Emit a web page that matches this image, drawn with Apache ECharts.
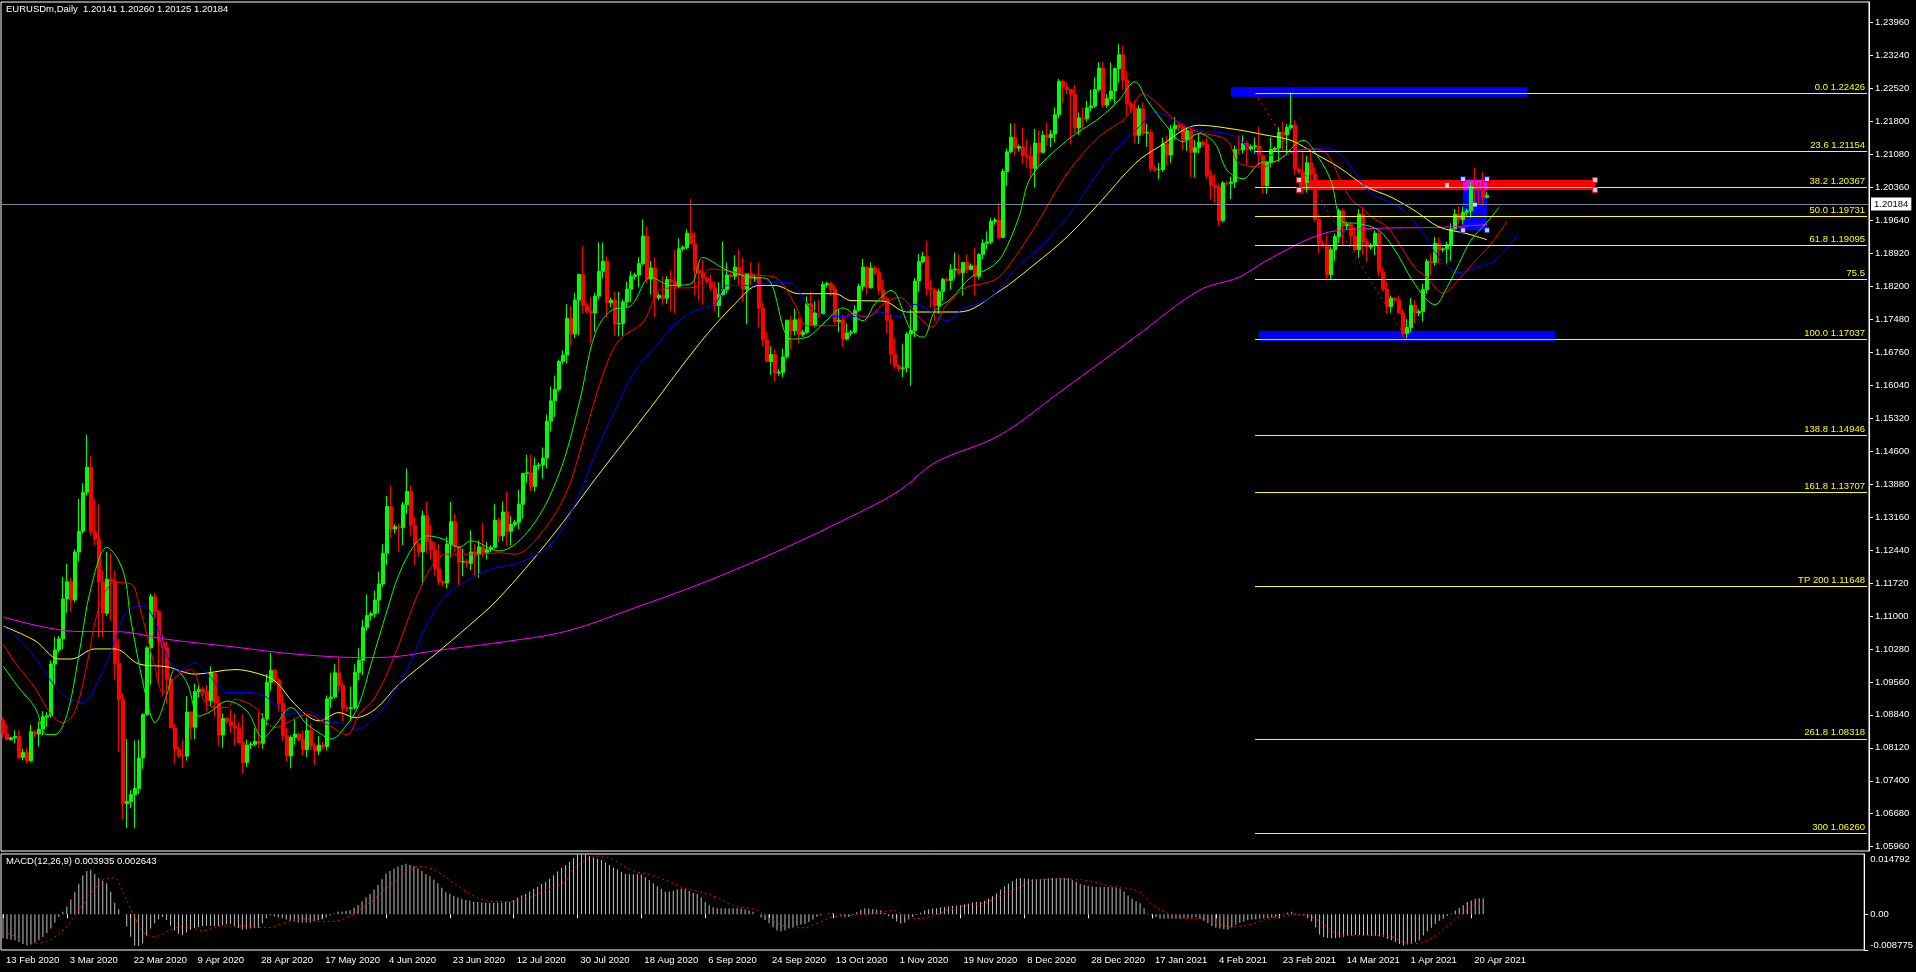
<!DOCTYPE html>
<html><head><meta charset="utf-8">
<script src="https://cdn.jsdelivr.net/npm/echarts@6/dist/echarts.min.js"></script>
<style>html,body{margin:0;padding:0;background:#000;overflow:hidden}#c{width:1916px;height:972px}</style>
</head><body><div id="c"></div>
<script>
// ---------- DATA ----------
const titleText = 'EURUSDm,Daily  1.20141 1.20260 1.20125 1.20184';
const macdTitle = 'MACD(12,26,9) 0.003935 0.002643';
const startDate = [2020, 1, 13];
const skipDates = ['2020-12-25', '2021-01-01'];
const slotCount = 467;
const labelEvery = 16;
const currentPrice = 1.20184;

// [open, high, low, close]
const candles = [
[1.0872,1.0878,1.0834,1.0842],[1.0842,1.0863,1.0828,1.0830],[1.0830,1.0836,1.0828,1.0834],[1.0834,1.0850,1.0822,1.0837],[1.0837,1.0850,1.0788,1.0791],
[1.0791,1.0810,1.0785,1.0802],[1.0802,1.0813,1.0778,1.0784],[1.0784,1.0862,1.0780,1.0847],[1.0847,1.0850,1.0835,1.0842],[1.0842,1.0870,1.0815,1.0853],
[1.0853,1.0892,1.0839,1.0880],[1.0880,1.0890,1.0858,1.0882],[1.0882,1.1003,1.0878,1.0995],[1.0995,1.1054,1.0950,1.1026],[1.1026,1.1056,1.1020,1.1050],
[1.1050,1.1185,1.1028,1.1137],[1.1137,1.1214,1.1107,1.1175],[1.1175,1.1183,1.1109,1.1135],[1.1135,1.1245,1.1130,1.1240],[1.1240,1.1356,1.1219,1.1285],
[1.1285,1.1390,1.1280,1.1370],[1.1370,1.1496,1.1363,1.1425],[1.1425,1.1450,1.1276,1.1284],[1.1284,1.1356,1.1255,1.1268],[1.1268,1.1344,1.1054,1.1174],
[1.1174,1.1199,1.1054,1.1106],[1.1106,1.1240,1.1100,1.1180],[1.1180,1.1237,1.1090,1.1176],[1.1176,1.1199,1.0960,1.0996],[1.0996,1.1050,1.0803,1.0918],
[1.0918,1.0931,1.0655,1.0690],[1.0690,1.0831,1.0637,1.0695],[1.0695,1.0720,1.0680,1.0710],[1.0710,1.0828,1.0636,1.0723],[1.0723,1.0830,1.0711,1.0790],
[1.0790,1.0887,1.0766,1.0885],[1.0885,1.1034,1.0882,1.1030],[1.1030,1.1148,1.0950,1.1142],[1.1142,1.1150,1.1090,1.1110],[1.1110,1.1114,1.0953,1.1043],
[1.1043,1.1060,1.0925,1.1031],[1.1031,1.1045,1.0908,1.0962],[1.0962,1.0970,1.0855,1.0856],[1.0856,1.0865,1.0778,1.0808],[1.0808,1.0815,1.0790,1.0795],
[1.0795,1.0830,1.0768,1.0794],[1.0794,1.0925,1.0784,1.0890],[1.0890,1.0892,1.0830,1.0857],[1.0857,1.0952,1.0831,1.0935],[1.0935,1.0950,1.0923,1.0940],
[1.0940,1.0945,1.0925,1.0935],[1.0935,1.0950,1.0891,1.0915],[1.0915,1.0990,1.0903,1.0975],[1.0975,1.0976,1.0880,1.0910],[1.0910,1.0925,1.0815,1.0840],
[1.0840,1.0887,1.0812,1.0876],[1.0876,1.0880,1.0864,1.0870],[1.0870,1.0895,1.0845,1.0860],[1.0860,1.0887,1.0816,1.0855],[1.0855,1.0870,1.0820,1.0823],
[1.0823,1.0885,1.0757,1.0780],[1.0780,1.0830,1.0770,1.0818],[1.0818,1.0825,1.0810,1.0820],[1.0820,1.0855,1.0815,1.0826],[1.0826,1.0890,1.0812,1.0822],
[1.0822,1.0888,1.0810,1.0875],[1.0875,1.0973,1.0861,1.0955],[1.0955,1.1019,1.0937,1.0981],[1.0981,1.0985,1.0950,1.0960],[1.0960,1.0965,1.0891,1.0909],
[1.0909,1.0929,1.0826,1.0838],[1.0838,1.0855,1.0782,1.0794],[1.0794,1.0840,1.0767,1.0835],[1.0835,1.0876,1.0819,1.0842],[1.0842,1.0845,1.0825,1.0830],
[1.0830,1.0850,1.0795,1.0808],[1.0808,1.0877,1.0792,1.0850],[1.0850,1.0865,1.0807,1.0816],[1.0816,1.0823,1.0775,1.0805],[1.0805,1.0838,1.0796,1.0818],
[1.0818,1.0825,1.0808,1.0815],[1.0815,1.0926,1.0806,1.0919],[1.0919,1.0976,1.0900,1.0923],[1.0923,1.0995,1.0920,1.0976],[1.0976,1.1009,1.0934,1.0948],
[1.0948,1.0955,1.0870,1.0899],[1.0899,1.0905,1.0890,1.0898],[1.0898,1.0946,1.0871,1.0900],[1.0900,1.0995,1.0895,1.0977],[1.0977,1.1030,1.0960,1.1003],
[1.1003,1.1092,1.0970,1.1075],[1.1075,1.1147,1.1068,1.1101],[1.1101,1.1110,1.1090,1.1105],[1.1105,1.1155,1.1096,1.1135],[1.1135,1.1197,1.1106,1.1170],
[1.1170,1.1257,1.1164,1.1237],[1.1237,1.1362,1.1212,1.1339],[1.1339,1.1384,1.1270,1.1290],[1.1290,1.1300,1.1280,1.1295],[1.1295,1.1302,1.1240,1.1293],
[1.1293,1.1349,1.1255,1.1343],[1.1343,1.1422,1.1323,1.1372],[1.1372,1.1386,1.1276,1.1298],[1.1298,1.1317,1.1212,1.1256],[1.1256,1.1262,1.1230,1.1240],
[1.1240,1.1330,1.1168,1.1319],[1.1319,1.1349,1.1238,1.1263],[1.1263,1.1300,1.1223,1.1244],[1.1244,1.1261,1.1188,1.1203],[1.1203,1.1257,1.1168,1.1175],
[1.1175,1.1180,1.1165,1.1172],[1.1172,1.1273,1.1160,1.1257],[1.1257,1.1349,1.1228,1.1306],[1.1306,1.1323,1.1240,1.1251],[1.1251,1.1253,1.1168,1.1218],
[1.1218,1.1247,1.1187,1.1219],[1.1219,1.1225,1.1205,1.1215],[1.1215,1.1287,1.1200,1.1240],[1.1240,1.1257,1.1189,1.1234],[1.1234,1.1265,1.1184,1.1251],
[1.1251,1.1303,1.1228,1.1239],[1.1239,1.1262,1.1223,1.1245],[1.1245,1.1255,1.1240,1.1250],[1.1250,1.1345,1.1247,1.1309],[1.1309,1.1315,1.1260,1.1275],
[1.1275,1.1350,1.1264,1.1327],[1.1327,1.1371,1.1255,1.1285],[1.1285,1.1318,1.1254,1.1300],[1.1300,1.1310,1.1295,1.1305],[1.1305,1.1375,1.1290,1.1344],
[1.1344,1.1413,1.1313,1.1411],[1.1411,1.1452,1.1391,1.1413],[1.1413,1.1452,1.1373,1.1383],[1.1383,1.1446,1.1372,1.1428],[1.1428,1.1435,1.1420,1.1430],
[1.1430,1.1468,1.1400,1.1445],[1.1445,1.1540,1.1422,1.1526],[1.1526,1.1601,1.1503,1.1570],[1.1570,1.1625,1.1535,1.1595],[1.1595,1.1660,1.1590,1.1656],
[1.1656,1.1680,1.1650,1.1670],[1.1670,1.1781,1.1651,1.1750],[1.1750,1.1777,1.1690,1.1716],[1.1716,1.1806,1.1707,1.1790],[1.1790,1.1848,1.1713,1.1846],
[1.1846,1.1908,1.1760,1.1778],[1.1778,1.1785,1.1760,1.1765],[1.1765,1.1797,1.1696,1.1762],[1.1762,1.1806,1.1721,1.1799],[1.1799,1.1916,1.1791,1.1853],
[1.1853,1.1916,1.1838,1.1875],[1.1875,1.1885,1.1753,1.1784],[1.1784,1.1795,1.1775,1.1790],[1.1790,1.1808,1.1712,1.1738],[1.1738,1.1808,1.1711,1.1739],
[1.1739,1.1791,1.1712,1.1786],[1.1786,1.1830,1.1775,1.1814],[1.1814,1.1853,1.1786,1.1842],[1.1842,1.1850,1.1835,1.1845],[1.1845,1.1883,1.1818,1.1870],
[1.1870,1.1966,1.1865,1.1930],[1.1930,1.1951,1.1826,1.1836],[1.1836,1.1876,1.1802,1.1860],[1.1860,1.1883,1.1753,1.1795],[1.1795,1.1805,1.1790,1.1800],
[1.1800,1.1842,1.1780,1.1794],[1.1794,1.1843,1.1782,1.1835],[1.1835,1.1855,1.1766,1.1830],[1.1830,1.1900,1.1762,1.1820],[1.1820,1.1925,1.1816,1.1902],
[1.1902,1.1910,1.1898,1.1905],[1.1905,1.1945,1.1900,1.1936],[1.1936,1.2011,1.1911,1.1913],[1.1913,1.1938,1.1800,1.1855],[1.1855,1.1868,1.1789,1.1849],
[1.1849,1.1878,1.1780,1.1838],[1.1838,1.1842,1.1825,1.1830],[1.1830,1.1846,1.1810,1.1817],[1.1817,1.1830,1.1765,1.1778],[1.1778,1.1829,1.1752,1.1802],
[1.1802,1.1917,1.1800,1.1813],[1.1813,1.1872,1.1805,1.1845],[1.1845,1.1850,1.1838,1.1842],[1.1842,1.1888,1.1834,1.1862],[1.1862,1.1900,1.1823,1.1845],
[1.1845,1.1883,1.1788,1.1814],[1.1814,1.1849,1.1737,1.1848],[1.1848,1.1873,1.1823,1.1838],[1.1838,1.1845,1.1830,1.1840],[1.1840,1.1872,1.1730,1.1772],
[1.1772,1.1785,1.1690,1.1703],[1.1703,1.1720,1.1655,1.1656],[1.1656,1.1689,1.1627,1.1671],[1.1671,1.1683,1.1612,1.1631],[1.1631,1.1640,1.1625,1.1632],
[1.1632,1.1684,1.1622,1.1666],[1.1666,1.1746,1.1662,1.1746],[1.1746,1.1754,1.1683,1.1723],[1.1723,1.1771,1.1713,1.1747],[1.1747,1.1753,1.1695,1.1715],
[1.1715,1.1725,1.1710,1.1720],[1.1720,1.1798,1.1716,1.1782],[1.1782,1.1809,1.1734,1.1735],[1.1735,1.1787,1.1730,1.1762],[1.1762,1.1790,1.1752,1.1760],
[1.1760,1.1831,1.1758,1.1824],[1.1824,1.1830,1.1818,1.1826],[1.1826,1.1830,1.1799,1.1813],[1.1813,1.1823,1.1738,1.1743],[1.1743,1.1770,1.1720,1.1746],
[1.1746,1.1758,1.1688,1.1705],[1.1705,1.1739,1.1702,1.1718],[1.1718,1.1725,1.1712,1.1720],[1.1720,1.1779,1.1717,1.1768],[1.1768,1.1826,1.1765,1.1820],
[1.1820,1.1880,1.1811,1.1862],[1.1862,1.1864,1.1803,1.1817],[1.1817,1.1872,1.1815,1.1860],[1.1860,1.1865,1.1845,1.1850],[1.1850,1.1860,1.1802,1.1812],
[1.1812,1.1834,1.1788,1.1793],[1.1793,1.1798,1.1717,1.1746],[1.1746,1.1760,1.1651,1.1672],[1.1672,1.1707,1.1640,1.1646],[1.1646,1.1650,1.1635,1.1640],
[1.1640,1.1695,1.1622,1.1642],[1.1642,1.1720,1.1632,1.1716],[1.1716,1.1770,1.1603,1.1724],[1.1724,1.1838,1.1709,1.1832],[1.1832,1.1891,1.1808,1.1874],
[1.1874,1.1895,1.1870,1.1885],[1.1885,1.1920,1.1800,1.1815],[1.1815,1.1835,1.1773,1.1812],[1.1812,1.1817,1.1745,1.1778],[1.1778,1.1815,1.1760,1.1809],
[1.1809,1.1838,1.1789,1.1835],[1.1835,1.1840,1.1830,1.1833],[1.1833,1.1869,1.1813,1.1856],[1.1856,1.1894,1.1837,1.1858],[1.1858,1.1890,1.1845,1.1850],
[1.1850,1.1874,1.1800,1.1872],[1.1872,1.1890,1.1849,1.1857],[1.1857,1.1870,1.1855,1.1865],[1.1865,1.1905,1.1800,1.1842],[1.1842,1.1893,1.1835,1.1890],
[1.1890,1.1923,1.1880,1.1914],[1.1914,1.1940,1.1902,1.1917],[1.1917,1.1969,1.1912,1.1962],[1.1962,1.1970,1.1955,1.1965],[1.1965,1.2003,1.1923,1.1927],
[1.1927,1.2077,1.1925,1.2071],[1.2071,1.2121,1.2040,1.2114],[1.2114,1.2176,1.2112,1.2146],[1.2146,1.2177,1.2105,1.2122],[1.2122,1.2130,1.2115,1.2125],
[1.2125,1.2167,1.2087,1.2106],[1.2106,1.2140,1.2080,1.2104],[1.2104,1.2128,1.2058,1.2078],[1.2078,1.2164,1.2036,1.2133],[1.2133,1.2161,1.2083,1.2113],
[1.2113,1.2160,1.2110,1.2150],[1.2150,1.2178,1.2126,1.2145],[1.2145,1.2162,1.2124,1.2153],[1.2153,1.2211,1.2134,1.2195],[1.2195,1.2273,1.2188,1.2268],
[1.2268,1.2272,1.2220,1.2255],[1.2255,1.2265,1.2240,1.2250],[1.2250,1.2250,1.2130,1.2239],[1.2239,1.2260,1.2155,1.2166],[1.2166,1.2200,1.2151,1.2188],
[1.2188,1.2211,1.2163,1.2186],[1.2186,1.2225,1.2180,1.2210],[1.2210,1.2250,1.2203,1.2214],[1.2214,1.2276,1.2210,1.2250],[1.2250,1.2310,1.2245,1.2297],
[1.2297,1.2310,1.2210,1.2216],[1.2216,1.2240,1.2210,1.2230],[1.2230,1.2309,1.2225,1.2247],[1.2247,1.2298,1.2220,1.2296],[1.2296,1.2349,1.2265,1.2326],
[1.2326,1.2345,1.2251,1.2271],[1.2271,1.2290,1.2193,1.2219],[1.2219,1.2225,1.2200,1.2210],[1.2210,1.2226,1.2132,1.2150],[1.2150,1.2216,1.2131,1.2208],
[1.2208,1.2222,1.2150,1.2155],[1.2155,1.2175,1.2125,1.2156],[1.2156,1.2164,1.2072,1.2078],[1.2078,1.2085,1.2070,1.2075],[1.2075,1.2090,1.2054,1.2075],
[1.2075,1.2145,1.2070,1.2131],[1.2131,1.2150,1.2085,1.2107],[1.2107,1.2173,1.2090,1.2164],[1.2164,1.2190,1.2140,1.2172],[1.2172,1.2175,1.2160,1.2168],
[1.2168,1.2176,1.2118,1.2140],[1.2140,1.2168,1.2116,1.2160],[1.2160,1.2165,1.2059,1.2113],[1.2113,1.2139,1.2058,1.2123],[1.2123,1.2155,1.2111,1.2135],
[1.2135,1.2140,1.2125,1.2130],[1.2130,1.2146,1.2055,1.2062],[1.2062,1.2075,1.2010,1.2041],[1.2041,1.2065,1.2003,1.2037],[1.2037,1.2045,1.1952,1.1964],
[1.1964,1.2050,1.1960,1.2046],[1.2046,1.2050,1.2040,1.2045],[1.2045,1.2060,1.2011,1.2048],[1.2048,1.2128,1.2035,1.2119],[1.2119,1.2150,1.2108,1.2118],
[1.2118,1.2150,1.2110,1.2132],[1.2132,1.2138,1.2085,1.2120],[1.2120,1.2130,1.2115,1.2125],[1.2125,1.2145,1.2110,1.2127],[1.2127,1.2169,1.2082,1.2105],
[1.2105,1.2110,1.2023,1.2040],[1.2040,1.2093,1.2022,1.2091],[1.2091,1.2145,1.2080,1.2119],[1.2119,1.2125,1.2115,1.2122],[1.2122,1.2168,1.2092,1.2156],
[1.2156,1.2180,1.2116,1.2151],[1.2151,1.2175,1.2110,1.2167],[1.2167,1.2243,1.2162,1.2172],[1.2172,1.2183,1.2064,1.2076],[1.2076,1.2080,1.2065,1.2070],
[1.2070,1.2113,1.2022,1.2047],[1.2047,1.2105,1.2025,1.2090],[1.2090,1.2113,1.2035,1.2065],[1.2065,1.2081,1.1962,1.1966],[1.1966,1.1977,1.1893,1.1913],
[1.1913,1.1920,1.1905,1.1910],[1.1910,1.1933,1.1836,1.1846],[1.1846,1.1907,1.1835,1.1900],[1.1900,1.1935,1.1876,1.1929],[1.1929,1.1990,1.1915,1.1985],
[1.1985,1.1990,1.1910,1.1952],[1.1952,1.1960,1.1945,1.1955],[1.1955,1.1960,1.1909,1.1930],[1.1930,1.1950,1.1896,1.1900],[1.1900,1.1989,1.1883,1.1977],
[1.1977,1.1990,1.1889,1.1916],[1.1916,1.1925,1.1873,1.1906],[1.1906,1.1915,1.1900,1.1910],[1.1910,1.1942,1.1888,1.1936],[1.1936,1.1942,1.1842,1.1852],
[1.1852,1.1860,1.1810,1.1814],[1.1814,1.1830,1.1760,1.1776],[1.1776,1.1800,1.1762,1.1794],[1.1794,1.1796,1.1785,1.1790],[1.1790,1.1800,1.1760,1.1762],
[1.1762,1.1771,1.1710,1.1717],[1.1717,1.1749,1.1704,1.1730],[1.1730,1.1795,1.1720,1.1779],[1.1779,1.1790,1.1740,1.1762],[1.1762,1.1770,1.1755,1.1765],
[1.1765,1.1826,1.1743,1.1813],[1.1813,1.1880,1.1805,1.1875],[1.1875,1.1890,1.1845,1.1872],[1.1872,1.1928,1.1865,1.1914],[1.1914,1.1927,1.1870,1.1900],
[1.1900,1.1905,1.1895,1.1902],[1.1902,1.1917,1.1870,1.1911],[1.1911,1.1958,1.1876,1.1946],[1.1946,1.1989,1.1942,1.1977],[1.1977,1.1995,1.1956,1.1966],
[1.1966,1.1994,1.1955,1.1982],[1.1982,1.1990,1.1975,1.1985],[1.1985,1.2048,1.1970,1.2038],[1.2038,1.2080,1.2005,1.2036],[1.2036,1.2048,1.2000,1.2033],
[1.2033,1.2070,1.1996,1.2014],[1.20141,1.20260,1.20125,1.20184]
];

// moving-average lines: [bar index, price]
const lipsGreen = [[0,1.0991],[4,1.0943],[8,1.0900],[11,1.0841],[13,1.0841],[16,1.0885],[19,1.1016],[22,1.1162],[26,1.1250],[30,1.1199],[32,1.1089],[36,1.0914],[38,1.0867],[41,1.0929],[43,1.0984],[46,1.0954],[49,1.0881],[52,1.0892],[56,1.0914],[61,1.0892],[65,1.0834],[68,1.0860],[72,1.0900],[76,1.0863],[79,1.0845],[82,1.0831],[86,1.0863],[89,1.0907],[92,1.0995],[96,1.1111],[99,1.1191],[103,1.1257],[106,1.1275],[110,1.1268],[114,1.1250],[117,1.1264],[124,1.1242],[132,1.1293],[139,1.1410],[144,1.1563],[148,1.1716],[152,1.1767],[157,1.1778],[162,1.1840],[167,1.1822],[172,1.1826],[175,1.1883],[181,1.1855],[187,1.1840],[191,1.1837],[197,1.1705],[201,1.1709],[205,1.1738],[210,1.1773],[215,1.1745],[218,1.1782],[222,1.1811],[227,1.1724],[230,1.1709],[233,1.1767],[237,1.1793],[242,1.1840],[247,1.1862],[250,1.1890],[254,1.1972],[257,1.2059],[266,1.2139],[274,1.2187],[279,1.2227],[283,1.2267],[286,1.2227],[291,1.2169],[295,1.2136],[299,1.2154],[303,1.2132],[306,1.2074],[310,1.2055],[314,1.2088],[319,1.2096],[325,1.2139],[329,1.2100],[332,1.2050],[335,1.1960],[339,1.1957],[344,1.1942],[348,1.1899],[352,1.1838],[356,1.1790],[358,1.1780],[361,1.1818],[364,1.1870],[367,1.1921],[371,1.1960],[374,1.1993]];
const teethRed = [[0,1.1038],[4,1.0987],[8,1.0943],[12,1.0885],[15,1.0867],[18,1.0892],[21,1.0995],[24,1.1118],[28,1.1173],[32,1.1170],[34,1.1126],[38,1.0987],[40,1.0933],[43,1.0965],[47,1.0983],[51,1.0907],[56,1.0900],[58,1.0918],[63,1.0900],[68,1.0856],[72,1.0871],[76,1.0885],[81,1.0863],[86,1.0841],[89,1.0885],[93,1.0922],[98,1.1016],[103,1.1133],[107,1.1206],[111,1.1235],[118,1.1235],[124,1.1238],[128,1.1235],[135,1.1286],[141,1.1373],[145,1.1483],[150,1.1628],[154,1.1702],[160,1.1742],[165,1.1815],[173,1.1818],[177,1.1858],[183,1.1851],[189,1.1844],[193,1.1840],[198,1.1781],[201,1.1734],[208,1.1734],[212,1.1760],[216,1.1753],[220,1.1781],[224,1.1796],[229,1.1753],[232,1.1731],[236,1.1781],[241,1.1818],[245,1.1826],[249,1.1840],[253,1.1884],[258,1.1950],[266,1.2066],[274,1.2147],[281,1.2190],[285,1.2241],[289,1.2216],[294,1.2176],[299,1.2157],[306,1.2139],[309,1.2089],[315,1.2081],[320,1.2103],[324,1.2118],[328,1.2120],[331,1.2110],[334,1.2059],[337,1.2010],[340,1.1990],[342,1.1972],[346,1.1950],[349,1.1914],[353,1.1860],[356,1.1840],[360,1.1805],[363,1.1826],[368,1.1875],[372,1.1913],[376,1.1962]];
const jawBlue = [[0,1.1078],[4,1.1049],[8,1.1009],[12,1.0958],[16,1.0922],[20,1.0911],[24,1.0962],[28,1.1046],[31,1.1111],[35,1.1122],[38,1.1089],[41,1.1013],[44,1.0980],[48,1.0998],[52,1.0965],[56,1.0933],[61,1.0933],[66,1.0922],[71,1.0885],[76,1.0892],[81,1.0871],[86,1.0863],[88,1.0852],[93,1.0878],[98,1.0936],[102,1.1002],[106,1.1082],[111,1.1148],[116,1.1177],[121,1.1199],[124,1.1207],[129,1.1216],[137,1.1257],[143,1.1344],[148,1.1454],[153,1.1549],[158,1.1636],[163,1.1687],[168,1.1738],[173,1.1767],[178,1.1782],[181,1.1822],[186,1.1822],[193,1.1829],[197,1.1827],[201,1.1781],[204,1.1761],[209,1.1754],[215,1.1754],[219,1.1764],[224,1.1754],[228,1.1781],[231,1.1771],[236,1.1745],[240,1.1771],[245,1.1786],[249,1.1812],[253,1.1858],[258,1.1895],[266,1.1971],[273,1.2059],[278,1.2117],[284,1.2168],[288,1.2201],[293,1.2183],[299,1.2161],[306,1.2154],[309,1.2141],[314,1.2106],[320,1.2106],[324,1.2117],[331,1.2122],[334,1.2110],[337,1.2080],[342,1.2023],[345,1.2010],[349,1.1993],[354,1.1949],[359,1.1883],[364,1.1850],[368,1.1861],[373,1.1877],[379,1.1937]];
const maYellow = [[0,1.1078],[8,1.1046],[14,1.1006],[17,1.1006],[23,1.1028],[28,1.1028],[34,1.0995],[41,1.0989],[48,1.0973],[58,1.0983],[63,1.0976],[68,1.0958],[73,1.0907],[79,1.0871],[84,1.0889],[88,1.0878],[93,1.0896],[99,1.0951],[108,1.1016],[116,1.1075],[124,1.1139],[137,1.1271],[149,1.1410],[162,1.1556],[174,1.1694],[183,1.1782],[189,1.1822],[193,1.1822],[199,1.1804],[208,1.1804],[212,1.1789],[220,1.1788],[226,1.1764],[239,1.1764],[249,1.1809],[258,1.1869],[266,1.1928],[274,1.2001],[283,1.2088],[289,1.2125],[299,1.2172],[308,1.2163],[316,1.2150],[322,1.2139],[328,1.2110],[334,1.2080],[341,1.2037],[347,1.2015],[353,1.1985],[359,1.1950],[366,1.1935],[371,1.1922]];
const maMagenta = [[0,1.1098],[19,1.1066],[28,1.1066],[41,1.1049],[58,1.1032],[74,1.1016],[91,1.1009],[99,1.1012],[108,1.1024],[124,1.1042],[141,1.1067],[158,1.1118],[174,1.1169],[191,1.1231],[208,1.1300],[224,1.1373],[233,1.1435],[249,1.1494],[265,1.1594],[283,1.1709],[299,1.1811],[309,1.1840],[316,1.1877],[330,1.1935],[341,1.1946],[359,1.1949],[371,1.1955]];

// MACD main (histogram), units of 0.0001, one per bar
const macdHistE4 = [
-59,-61,-62,-64,-68,-73,-77,-74,-70,-64,-56,-46,-35,-20,-7,6,19,36,54,75,
95,106,109,99,89,82,76,55,28,12,0,-30,-55,-77,-78,-72,-52,-35,-22,-12,
-7,-14,-28,-40,-48,-51,-45,-38,-34,-31,-29,-28,-28,-29,-29,-27,-25,-24,-29,-34,
-38,-37,-35,-34,-33,-22,-10,-3,-5,-8,-10,-13,-16,-18,-20,-20,-20,-20,-17,-14,
-12,-8,-3,2,6,7,8,10,16,22,32,42,50,61,72,86,100,106,112,117,
121,124,121,118,113,106,98,93,85,76,65,54,50,45,41,38,35,33,31,30,
29,28,28,28,28,29,30,31,35,41,46,50,56,62,67,74,80,87,96,105,
114,120,129,138,146,147,146,143,139,136,133,127,121,115,110,104,99,98,98,98,
98,91,84,76,69,62,55,56,58,61,63,62,57,53,50,41,30,22,17,15,
15,15,15,15,15,14,12,9,6,0,-8,-14,-22,-32,-40,-42,-39,-35,-31,-28,
-25,-24,-19,-13,-7,-3,0,2,3,1,-3,-6,-7,-2,5,11,15,14,13,11,
10,3,-5,-11,-18,-23,-20,-13,-7,-2,4,9,12,14,15,17,18,19,20,21,
22,24,26,28,30,31,33,38,44,51,60,68,75,81,87,89,88,87,86,86,
86,87,88,89,89,89,89,89,84,79,74,72,70,68,67,67,67,67,66,65,
63,56,46,38,32,27,15,2,-3,-7,-11,-11,-11,-11,-11,-11,-10,-9,-8,-7,
-11,-16,-22,-29,-33,-35,-37,-38,-32,-26,-21,-18,-15,-13,-12,-11,-10,-9,-8,-7,
-3,1,4,6,2,-1,-3,-10,-18,-32,-50,-56,-58,-59,-59,-57,-55,-53,-52,-51,
-51,-51,-51,-52,-53,-54,-55,-60,-64,-68,-73,-77,-74,-72,-69,-64,-52,-42,-33,-24,
-16,-11,-4,2,9,16,22,30,34,38,39,39.35
];
const macdUnit = 0.0001;
// MACD signal line: [bar index, value]
const macdSignal = [[0,-0.0042],[4,-0.0058],[8,-0.0072],[12,-0.0062],[16,-0.0029],[19,0.0010],[23,0.0063],[25,0.0085],[28,0.0089],[30,0.0055],[33,-0.0007],[36,-0.0051],[38,-0.0055],[42,-0.0038],[46,-0.0029],[50,-0.0040],[55,-0.0029],[60,-0.0029],[66,-0.0033],[71,-0.0020],[75,-0.0011],[80,-0.0018],[84,-0.0016],[88,0.0002],[93,0.0037],[97,0.0072],[102,0.0111],[105,0.0117],[109,0.0104],[113,0.0076],[118,0.0045],[122,0.0032],[126,0.0031],[131,0.0037],[135,0.0054],[140,0.0076],[143,0.0111],[147,0.0137],[150,0.0143],[153,0.0133],[158,0.0106],[162,0.0098],[167,0.0080],[171,0.0063],[174,0.0057],[179,0.0041],[183,0.0021],[189,0.0010],[193,-0.0016],[198,-0.0033],[201,-0.0033],[204,-0.0023],[208,-0.0007],[213,-0.0003],[219,0.0003],[223,0.0009],[228,-0.0011],[232,-0.0007],[237,0.0010],[241,0.0021],[246,0.0028],[250,0.0045],[255,0.0067],[259,0.0085],[264,0.0086],[268,0.0086],[273,0.0080],[277,0.0070],[281,0.0065],[285,0.0054],[288,0.0024],[292,0.0002],[296,-0.0010],[301,-0.0011],[305,-0.0024],[308,-0.0031],[313,-0.0024],[317,-0.0011],[322,-0.0003],[326,-0.0001],[330,-0.0017],[334,-0.0046],[339,-0.0053],[344,-0.0051],[348,-0.0055],[351,-0.0068],[354,-0.0072],[357,-0.0064],[360,-0.0046],[363,-0.0020],[366,0.0002],[369,0.0024],[371,0.0026]];

// price axis ticks and MACD axis ticks
const priceTicks = [1.05960,1.06680,1.07400,1.08120,1.08840,1.09560,1.10280,1.11000,1.11720,1.12440,1.13160,1.13880,1.14600,1.15320,1.16040,1.16760,1.17480,1.18200,1.18920,1.19640,1.20360,1.21080,1.21800,1.22520,1.23240,1.23960];
const priceMin = 1.05866, priceMax = 1.24412;
const macdTicks = [0.014792, 0, -0.008775];

// Fibonacci levels
const fibLabels = ['0.0 1.22426','23.6 1.21154','38.2 1.20367','50.0 1.19731','61.8 1.19095','75.5','100.0 1.17037','138.8 1.14946','161.8 1.13707','TP 200 1.11648','261.8 1.08318','300 1.06260'];
const fibValues = [1.22426,1.21154,1.20367,1.19731,1.19095,1.18357,1.17037,1.14946,1.13707,1.11648,1.08318,1.06260];
const fibStartBar = 313;
const fibTrend = [[313,1.22426],[351,1.17037]];

// rectangles: [fromBar, toBar, priceTop, priceBottom]
const blueZones = [[307,381,1.22549,1.22343],[314,388,1.17225,1.17007],[365,371,1.20546,1.19425]];
const redZones = [[324,398,1.20524,1.20306]];
const overlapZones = [[365,371,1.20524,1.20306]];
const redHandles = [[324,1.20524],[324,1.20306],[398,1.20524],[398,1.20306]];
const blueHandles = [[365,1.20546],[371,1.20546],[365,1.19425],[371,1.19425]];
const centerHandles = [[361,1.20415],[368,1.19986]];

// ---------- BUILD ----------
const MON = ['Jan','Feb','Mar','Apr','May','Jun','Jul','Aug','Sep','Oct','Nov','Dec'];
const dates = [];
(function(){
  const d = new Date(Date.UTC(startDate[0], startDate[1], startDate[2]));
  while (dates.length < slotCount) {
    const iso = d.toISOString().slice(0,10);
    if (d.getUTCDay() !== 6 && skipDates.indexOf(iso) < 0)
      dates.push(d.getUTCDate() + ' ' + MON[d.getUTCMonth()] + ' ' + d.getUTCFullYear());
    d.setUTCDate(d.getUTCDate() + 1);
  }
})();
const lastBar = candles.length - 1;
const showLabel = (i) => i % labelEvery === 0 && i <= lastBar;
const FONT = 'Liberation Sans';
const FS = 9.5;

const zoneArea = (zones) => zones.map(z => [{coord:[z[0], z[2]]}, {coord:[z[1], z[3]]}]);

const chart = echarts.init(document.getElementById('c'), null, {renderer:'canvas'});
const lineS = (name, data, color, z) => ({
  name, type:'line', xAxisIndex:0, yAxisIndex:0, data, showSymbol:false, smooth:0.35,
  lineStyle:{color, width:1}, z, silent:true, animation:false
});

chart.setOption({
  backgroundColor:'#000000',
  animation:false,
  textStyle:{fontFamily:FONT},
  title:[
    {text:titleText, left:6, top:4, padding:0, textStyle:{color:'#ffffff', fontSize:FS, fontWeight:'normal', fontFamily:FONT}},
    {text:macdTitle, left:6, top:856, padding:0, textStyle:{color:'#ffffff', fontSize:FS, fontWeight:'normal', fontFamily:FONT}}
  ],
  grid:[
    {left:1, top:2, width:slotCount*4, height:849, show:true, borderColor:'#ffffff', borderWidth:1, backgroundColor:'transparent'},
    {left:1, top:854, width:slotCount*4, height:96, show:true, borderColor:'#ffffff', borderWidth:1, backgroundColor:'transparent'}
  ],
  xAxis:[
    {type:'category', gridIndex:0, data:dates, boundaryGap:true, axisLine:{show:false}, axisTick:{show:false}, axisLabel:{show:false}, splitLine:{show:false}},
    {type:'category', gridIndex:1, data:dates, boundaryGap:true, axisLine:{show:false},
      axisTick:{show:true, alignWithLabel:true, interval:(i)=>showLabel(i), length:4, lineStyle:{color:'#ffffff'}},
      axisLabel:{show:true, interval:(i)=>showLabel(i), color:'#ffffff', fontSize:FS, fontFamily:FONT, align:'left', margin:5, padding:[0,0,0,3]},
      splitLine:{show:false}}
  ],
  yAxis:[
    {type:'value', gridIndex:0, position:'right', min:priceMin, max:priceMax,
      axisLine:{show:true, lineStyle:{color:'#ffffff'}},
      axisTick:{show:true, customValues:priceTicks, length:4, inside:false, lineStyle:{color:'#ffffff'}},
      axisLabel:{show:true, customValues:priceTicks, formatter:(v)=>v.toFixed(5), color:'#ffffff', fontSize:FS, fontFamily:FONT, margin:6},
      splitLine:{show:false}},
    {type:'value', gridIndex:1, position:'right', min:macdTicks[2], max:macdTicks[0],
      axisLine:{show:true, lineStyle:{color:'#ffffff'}},
      axisTick:{show:true, customValues:[0, macdTicks[2]], length:4, lineStyle:{color:'#ffffff'}},
      axisLabel:{show:true, customValues:macdTicks, color:'#ffffff', fontSize:FS, fontFamily:FONT, margin:6,
        formatter:(v)=> v===0 ? '{m|0.00}' : (v>0 ? '{t|'+v.toFixed(6)+'}' : '{b|'+v.toFixed(6)+'}'),
        rich:{
          t:{color:'#ffffff', fontSize:FS, fontFamily:FONT, padding:[11,0,0,0]},
          m:{color:'#ffffff', fontSize:FS, fontFamily:FONT},
          b:{color:'#ffffff', fontSize:FS, fontFamily:FONT, padding:[0,0,9,0]}
        }},
      splitLine:{show:false}}
  ],
  series:[
    // background rectangles
    {type:'line', name:'zones', xAxisIndex:0, yAxisIndex:0, data:[], z:0, silent:true,
      markArea:{silent:true, z:0, itemStyle:{color:'#0000ff', opacity:1}, data:zoneArea(blueZones)}},
    {type:'line', name:'zonesRed', xAxisIndex:0, yAxisIndex:0, data:[], z:0, silent:true,
      markArea:{silent:true, z:0, itemStyle:{color:'#ff0000', opacity:1}, data:zoneArea(redZones)}},
    {type:'line', name:'zonesOverlap', xAxisIndex:0, yAxisIndex:0, data:[], z:0, silent:true,
      markArea:{silent:true, z:0, itemStyle:{color:'#ff00ff', opacity:1}, data:zoneArea(overlapZones)}},
    // current price line
    {type:'line', name:'bid', xAxisIndex:0, yAxisIndex:0, data:[], z:1, silent:true,
      markLine:{silent:true, symbol:['none','none'], animation:false,
        lineStyle:{color:'#778899', width:1, type:'solid'},
        label:{show:true, position:'end', formatter:currentPrice.toFixed(5), color:'#000000', backgroundColor:'#ffffff', padding:[2,3,1,3], fontSize:FS, fontFamily:FONT, distance:2},
        data:[{yAxis:currentPrice}]}},
    // candles
    {type:'candlestick', name:'EURUSDm', xAxisIndex:0, yAxisIndex:0, z:3, barWidth:3, silent:true,
      data:candles.map(c=>[c[0], c[3], c[2], c[1]]),
      itemStyle:{color:'#00ff00', color0:'#ff0000', borderColor:'#00ff00', borderColor0:'#ff0000', borderWidth:1}},
    // moving averages
    lineS('magenta', maMagenta, '#ff00ff', 4),
    lineS('yellow', maYellow, '#ffff00', 4),
    lineS('jaw', jawBlue, '#0000ff', 4),
    lineS('teeth', teethRed, '#ff0000', 4),
    lineS('lips', lipsGreen, '#00ff00', 4),
    // fibonacci
    {type:'line', name:'fibTrend', xAxisIndex:0, yAxisIndex:0, data:fibTrend, showSymbol:false, z:5, silent:true,
      lineStyle:{color:'#ff0000', width:1, type:[2,4]}},
    {type:'line', name:'fib', xAxisIndex:0, yAxisIndex:0, data:[], z:5, silent:true,
      markLine:{silent:true, symbol:['none','none'], animation:false,
        lineStyle:{color:'#ffff00', width:1, type:'solid'},
        label:{show:true, position:'insideEndTop', color:'#ffff00', fontSize:FS, fontFamily:FONT, distance:[2,1]},
        data: fibValues.map((v,k)=>[{coord:[fibStartBar, v], label:{formatter:fibLabels[k]}}, {coord:[slotCount-1, v]}])}},
    // selection handles
    {type:'scatter', name:'hRed', xAxisIndex:0, yAxisIndex:0, data:redHandles, symbol:'rect', symbolSize:5, z:6, silent:true,
      itemStyle:{color:'#ffffff', borderColor:'#ff0000', borderWidth:1}},
    {type:'scatter', name:'hBlue', xAxisIndex:0, yAxisIndex:0, data:blueHandles, symbol:'rect', symbolSize:5, z:6, silent:true,
      itemStyle:{color:'#ffffff', borderColor:'#0000ff', borderWidth:1}},
    {type:'scatter', name:'hCenter', xAxisIndex:0, yAxisIndex:0, data:centerHandles, symbol:'rect', symbolSize:4, z:6, silent:true,
      itemStyle:{color:'#ffffff'}},
    // MACD
    {type:'bar', name:'MACD', xAxisIndex:1, yAxisIndex:1, data:macdHistE4.map(v=>v*macdUnit), barWidth:1, silent:true,
      itemStyle:{color:'#c0c0c0'}},
    {type:'line', name:'Signal', xAxisIndex:1, yAxisIndex:1, data:macdSignal, showSymbol:false, smooth:0.35, silent:true, z:4,
      lineStyle:{color:'#ff0000', width:1, type:[2,3]}}
  ]
});
</script>
</body></html>
